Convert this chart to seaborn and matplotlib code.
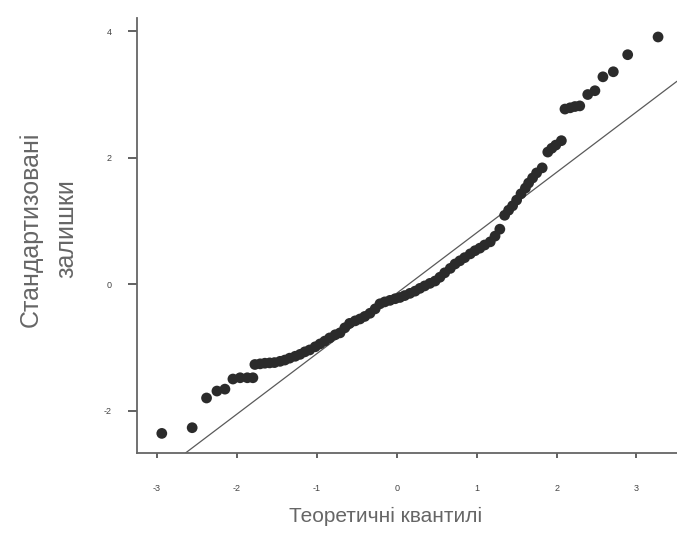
'''Q-Q plot of standardized residuals'''

import matplotlib
matplotlib.use('Agg')
import matplotlib.pyplot as plt
import seaborn as sns
import pandas as pd

# points (theoretical quantile, standardized residual)
theor = [-2.94, -2.56, -2.38, -2.25, -2.15, -2.05, -1.96, -1.87, -1.80,
         -1.775, -1.71, -1.65, -1.59, -1.53, -1.46, -1.40, -1.34, -1.27, -1.21,
         -1.15, -1.09, -1.02, -0.96, -0.90, -0.84, -0.77, -0.71, -0.65, -0.59,
         -0.52, -0.46, -0.40, -0.335, -0.27, -0.21, -0.15, -0.085, -0.02, 0.04,
         0.10, 0.165, 0.23, 0.29, 0.35, 0.415, 0.48, 0.54, 0.60, 0.67,
         0.73, 0.79, 0.85, 0.92, 0.98, 1.04, 1.10, 1.17, 1.23, 1.29,
         1.35, 1.40, 1.45, 1.50, 1.555, 1.61, 1.65, 1.70, 1.75, 1.82,
         1.89, 1.94, 1.99, 2.06, 2.105, 2.17, 2.23, 2.29, 2.39, 2.48,
         2.58, 2.71, 2.89, 3.27]
resid = [-2.36, -2.27, -1.80, -1.69, -1.66, -1.50, -1.48, -1.48, -1.48,
         -1.27, -1.26, -1.25, -1.245, -1.24, -1.22, -1.20, -1.17, -1.14, -1.11,
         -1.07, -1.04, -0.99, -0.945, -0.90, -0.85, -0.80, -0.77, -0.69, -0.62,
         -0.58, -0.55, -0.51, -0.46, -0.39, -0.31, -0.28, -0.256, -0.23, -0.21,
         -0.18, -0.145, -0.11, -0.066, -0.027, 0.013, 0.05, 0.11, 0.18, 0.25,
         0.32, 0.37, 0.42, 0.48, 0.53, 0.57, 0.62, 0.67, 0.76, 0.87,
         1.09, 1.17, 1.24, 1.33, 1.43, 1.52, 1.60, 1.68, 1.76, 1.84,
         2.09, 2.15, 2.20, 2.27, 2.77, 2.79, 2.81, 2.82, 3.00, 3.06,
         3.28, 3.36, 3.63, 3.91]

# reference line (qqline)
line_intercept = -0.143
line_slope = 0.956

x_ticks = [-3, -2, -1, 0, 1, 2, 3]
y_ticks = [-2, 0, 2, 4]

df = pd.DataFrame({'theor': theor, 'resid': resid})

sns.set_style('ticks')
plt.rcParams['font.family'] = ['Liberation Sans', 'DejaVu Sans']

fig = plt.figure(figsize=(6.77, 5.38), dpi=100)
ax = fig.add_axes([0.2024, 0.158, 0.7976, 0.8085])

sns.scatterplot(data=df, x='theor', y='resid', ax=ax, s=60,
                color='#2b2b2b', edgecolor='none', linewidth=0, zorder=3)
ax.axline((0, line_intercept), slope=line_slope, color='#5a5a5a', lw=0.9, zorder=2)

ax.set_xlim(-3.25, 3.507)
ax.set_ylim(-2.67, 4.21)
ax.set_xticks(x_ticks)
ax.set_yticks(y_ticks)
ax.set_xticklabels([str(t) for t in x_ticks])
ax.set_yticklabels([str(t) for t in y_ticks])

sns.despine(ax=ax)
for side in ['left', 'bottom']:
    ax.spines[side].set_color('#666666')
    ax.spines[side].set_linewidth(1.3)

ax.tick_params(axis='x', length=3.5, width=1.3, color='#555555',
               labelsize=6.5, labelcolor='#444444', pad=19)
ax.tick_params(axis='y', length=6.5, width=1.3, color='#555555',
               labelsize=6.5, labelcolor='#444444', pad=12)

ax.set_xlabel('Теоретичні квантилі', fontsize=15, color='#666666')
ax.xaxis.set_label_coords(0.461, -0.123)
ax.set_ylabel('Стандартизовані\nзалишки', fontsize=18, color='#666666',
              linespacing=1.6)
ax.yaxis.set_label_coords(-0.109, 0.515)

fig.savefig('out.png', dpi=100)
